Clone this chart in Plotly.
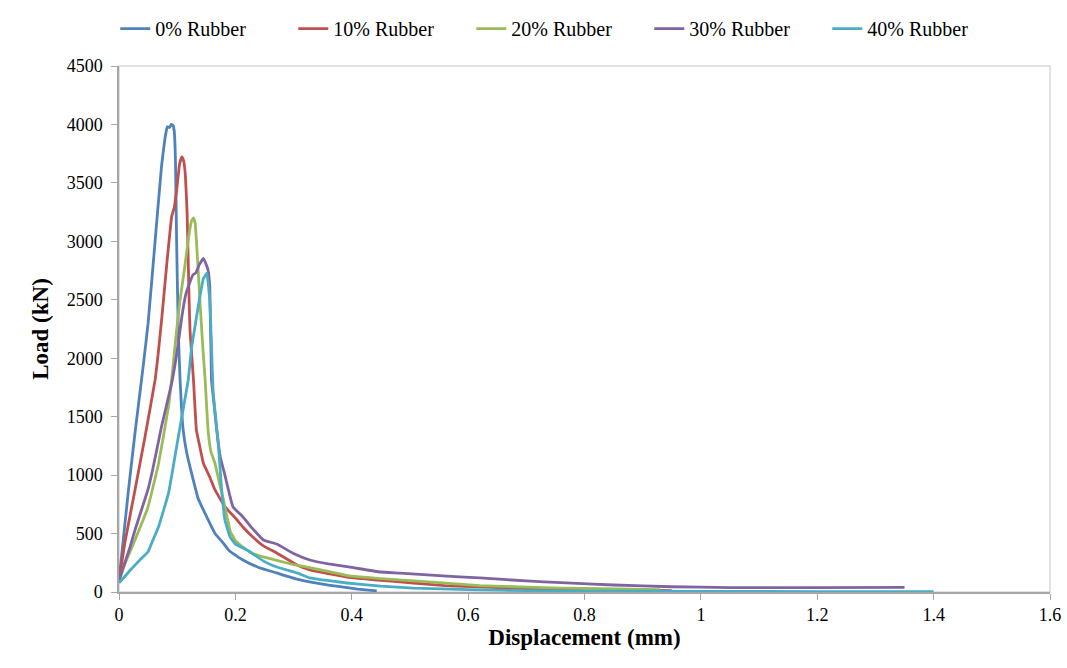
import plotly.graph_objects as go

# ---- data ----
names = ["0% Rubber", "10% Rubber", "20% Rubber", "30% Rubber", "40% Rubber"]
colors = ["#4F81BD", "#C0504D", "#9BBB59", "#8064A2", "#4BACC6"]

x0 = [0, 0.008, 0.016, 0.0275, 0.042, 0.05, 0.06, 0.073, 0.079, 0.083, 0.087, 0.09, 0.093, 0.095,
      0.097, 0.099, 0.102, 0.105, 0.110, 0.116, 0.125, 0.136, 0.151, 0.165, 0.179, 0.19, 0.213,
      0.24, 0.271, 0.306, 0.34, 0.38, 0.41, 0.443]
y0 = [100, 480, 860, 1360, 1950, 2300, 2880, 3640, 3880, 3980, 3975, 4000, 3990, 3940,
      3700, 3000, 2213, 1814, 1400, 1200, 1010, 800, 640, 500, 420, 350, 274,
      210, 163, 110, 75, 45, 25, 10]

x1 = [0, 0.01, 0.0275, 0.0447, 0.062, 0.068, 0.075, 0.082, 0.0905, 0.095, 0.1, 0.104, 0.108, 0.111,
      0.114, 0.117, 0.12, 0.122, 0.128, 0.133, 0.139, 0.145, 0.156, 0.165, 0.182, 0.203, 0.213,
      0.23, 0.248, 0.271, 0.306, 0.328, 0.392, 0.45, 0.506, 0.56, 0.62, 0.7, 0.8, 0.9, 0.95]
y1 = [100, 420, 873, 1329, 1814, 2070, 2420, 2800, 3211, 3290, 3480, 3660, 3722, 3690,
      3570, 3250, 2600, 2241, 1814, 1386, 1240, 1101, 984, 873, 730, 616, 556,
      470, 395, 334, 231, 188, 128, 100, 77, 55, 43, 30, 20, 15, 12]

x2 = [0, 0.01, 0.0275, 0.05, 0.068, 0.085, 0.0905, 0.099, 0.105, 0.113, 0.12, 0.125, 0.128, 0.131,
      0.134, 0.139, 0.144, 0.148, 0.153, 0.158, 0.165, 0.174, 0.179, 0.183, 0.188, 0.191, 0.2,
      0.213, 0.23, 0.248, 0.271, 0.3, 0.334, 0.4, 0.45, 0.55, 0.62, 0.7, 0.76, 0.85, 0.93]
y2 = [90, 240, 445, 730, 1100, 1585, 1814, 2241, 2500, 2780, 3050, 3180, 3200, 3150,
      2926, 2500, 2096, 1814, 1386, 1200, 1101, 900, 800, 700, 590, 520, 440,
      385, 330, 300, 270, 235, 203, 135, 115, 80, 55, 42, 34, 26, 20]

x3 = [0, 0.01, 0.019, 0.0275, 0.05, 0.058, 0.073, 0.0905, 0.101, 0.108, 0.115, 0.122, 0.127, 0.132,
      0.138, 0.145, 0.15, 0.153, 0.156, 0.159, 0.162, 0.168, 0.174, 0.182, 0.191, 0.196, 0.213,
      0.23, 0.248, 0.271, 0.3, 0.328, 0.36, 0.4, 0.449, 0.483, 0.55, 0.62, 0.7, 0.76, 0.85,
      0.95, 1.05, 1.2, 1.35]
y3 = [100, 250, 385, 530, 880, 1050, 1414, 1786, 2096, 2355, 2550, 2652, 2712, 2730,
      2800, 2855, 2800, 2755, 2610, 1814, 1668, 1386, 1155, 1000, 813, 727, 642,
      540, 445, 410, 330, 274, 240, 210, 171, 162, 140, 120, 95, 80, 60,
      45, 38, 38, 40]

x4 = [0, 0.002, 0.02, 0.035, 0.05, 0.058, 0.068, 0.085, 0.099, 0.111, 0.119, 0.125, 0.139, 0.145,
      0.151, 0.156, 0.159, 0.162, 0.171, 0.176, 0.182, 0.191, 0.2, 0.22, 0.25, 0.271, 0.306,
      0.328, 0.392, 0.45, 0.506, 0.6, 0.7, 0.8, 1.0, 1.2, 1.4]
y4 = [80, 88, 190, 270, 345, 440, 559, 844, 1243, 1585, 1814, 2099, 2527, 2680,
      2727, 2498, 2099, 1700, 1243, 900, 616, 470, 410, 359, 260, 214, 163,
      120, 77, 50, 34, 20, 12, 8, 5, 4, 3]

xs = [x0, x1, x2, x3, x4]
ys = [y0, y1, y2, y3, y4]

x_range = [0, 1.6]
y_range = [0, 4500]

fig = go.Figure()
for n, c, xv, yv in zip(names, colors, xs, ys):
    fig.add_trace(go.Scatter(x=xv, y=yv, mode="lines", name=n,
                             line=dict(color=c, width=2.8, shape="spline", smoothing=0.3)))

serif = "Liberation Serif"
axis_common = dict(showgrid=False, zeroline=False, showline=True, linecolor="#A6A6A6",
                   linewidth=1.5, ticks="outside", ticklen=6, tickcolor="#A6A6A6",
                   tickfont=dict(family=serif, size=18, color="#000000"))

fig.update_layout(
    width=1067, height=668,
    margin=dict(l=119, r=17, t=66, b=76, autoexpand=False),
    plot_bgcolor="white", paper_bgcolor="white",
    font=dict(family=serif, color="#000000"),
    showlegend=True,
    legend=dict(orientation="h", x=-0.004, xanchor="left", y=1.071, yanchor="middle",
                font=dict(family=serif, size=20, color="#000000"),
                entrywidth=133, entrywidthmode="pixels", bgcolor="rgba(0,0,0,0)"),
    xaxis=dict(range=x_range, dtick=0.2, tick0=0, **axis_common,
               title=dict(text="<b>Displacement (mm)</b>", font=dict(family=serif, size=23),
                          standoff=5)),
    yaxis=dict(range=y_range, dtick=500, tick0=0, **axis_common, ticklabelstandoff=5,
               title=dict(text="<b>Load (kN)</b>", font=dict(family=serif, size=23),
                          standoff=12)),
    shapes=[dict(type="rect", xref="paper", yref="paper", x0=0, y0=0, x1=1, y1=1,
                 line=dict(color="#D9D9D9", width=1.5), layer="below")],
)

fig.write_html("out.html")
